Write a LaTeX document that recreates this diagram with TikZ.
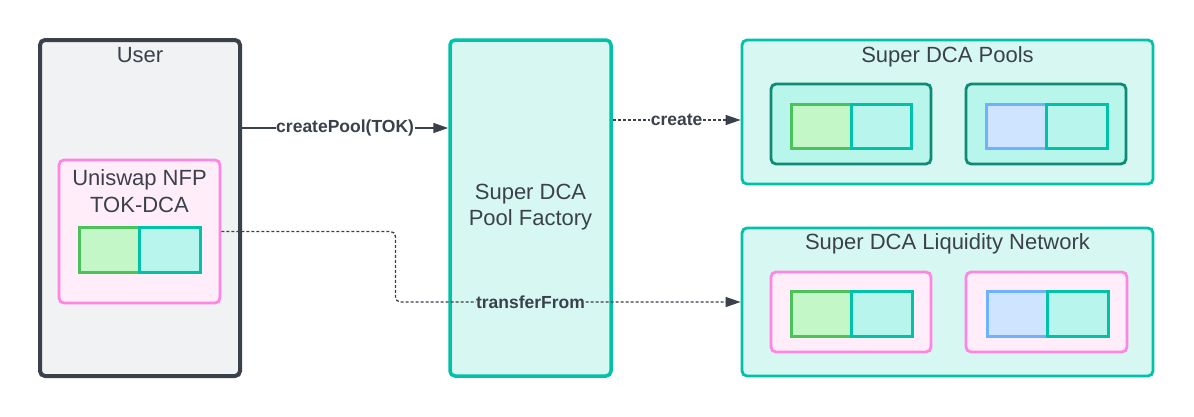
\documentclass[tikz,border=0pt]{standalone}
\usepackage{fontspec}
\setmainfont{Liberation Sans}
\usetikzlibrary{arrows.meta}
\definecolor{ink}{HTML}{3A414A}
\definecolor{userfill}{HTML}{F1F2F4}
\definecolor{teal}{HTML}{00C2A8}
\definecolor{mint}{HTML}{D7F8F2}
\definecolor{poolfill}{HTML}{B8F5EA}
\definecolor{pooldark}{HTML}{0E8A76}
\definecolor{pinkline}{HTML}{FF85E0}
\definecolor{pinkfill}{HTML}{FFEEFA}
\definecolor{greenline}{HTML}{4CC35A}
\definecolor{greenfill}{HTML}{C3F7C8}
\definecolor{tealfill}{HTML}{B8F5ED}
\definecolor{blueline}{HTML}{6DB1FF}
\definecolor{bluefill}{HTML}{CFE4FF}
\tikzset{
  box/.style={draw, rectangle, inner sep=0pt, rounded corners=5pt},
  userbox/.style={box, draw=ink, fill=userfill, line width=4pt},
  tealbox/.style={box, draw=teal, fill=mint, line width=2.8pt},
  factorybox/.style={box, draw=teal, fill=mint, line width=3.5pt},
  poolbox/.style={box, draw=pooldark, fill=poolfill, line width=2.8pt, minimum width=160pt, minimum height=80pt},
  pinkbox/.style={box, draw=pinkline, fill=pinkfill, line width=2.8pt, minimum width=160pt, minimum height=80pt},
  sq/.style={draw, rectangle, inner sep=0pt, line width=3pt, minimum width=60pt, minimum height=45pt},
  gsq/.style={sq, draw=greenline, fill=greenfill},
  tsq/.style={sq, draw=teal, fill=tealfill},
  bsq/.style={sq, draw=blueline, fill=bluefill},
  ttl/.style={text=ink, font=\fontsize{22}{26.5}\selectfont, align=center, inner sep=0pt},
  lbl/.style={text=ink, font=\bfseries\fontsize{17.5}{21}\selectfont, inner sep=0.5pt, fill=white},
  solidarrow/.style={draw=ink, line width=1.5pt, -{Triangle[length=15pt,width=10pt]}},
  dasharrow/.style={draw=ink, line width=1.3pt, dash pattern=on 3pt off 2pt, -{Triangle[length=15pt,width=10pt]}},
}
\begin{document}
\begin{tikzpicture}[x=1pt,y=-1pt]
\useasboundingbox[fill=white] (0,0) rectangle (1194,416);
% User
\node[userbox, minimum width=200pt, minimum height=336pt] (user) at (140,208) {};
\node[ttl] (usert) at (140,55.5) {User};
\node[pinkbox, minimum width=161pt, minimum height=143pt] (uni) at (139.5,231.5) {};
\node[ttl] (unit) at (139.5,191) {Uniswap NFP\\TOK-DCA};
\node[gsq] (ug) at (109,249.5) {};
\node[tsq, minimum width=61pt] (ut) at (169.5,249.5) {};
% Factory
\node[factorybox, minimum width=161pt, minimum height=336pt] (factory) at (530.5,208) {};
\node[ttl] (factoryt) at (530.5,207) {Super DCA\\Pool Factory};
% Pools
\node[tealbox, minimum width=411pt, minimum height=144pt] (pools) at (947.5,112) {};
\node[ttl] (poolst) at (947.5,56.5) {Super DCA Pools};
\node[poolbox] (p1) at (851,124) {};
\node[gsq, minimum height=44pt] (p1g) at (821,126) {};
\node[tsq, minimum height=44pt] (p1t) at (881,126) {};
\node[poolbox] (p2) at (1046,124) {};
\node[bsq, minimum height=44pt] (p2b) at (1016,126) {};
\node[tsq, minimum height=44pt, minimum width=61pt] (p2t) at (1076.5,126) {};
% Liquidity network
\node[tealbox, minimum width=411pt, minimum height=148pt] (net) at (947.5,302) {};
\node[ttl] (nett) at (947.5,243.5) {Super DCA Liquidity Network};
\node[pinkbox] (n1) at (851,312) {};
\node[gsq] (n1g) at (821,313.5) {};
\node[tsq, minimum width=61pt] (n1t) at (881.5,313.5) {};
\node[pinkbox, minimum width=161pt] (n2) at (1046.5,312) {};
\node[bsq] (n2b) at (1017,313.5) {};
\node[tsq, minimum width=61pt] (n2t) at (1077.5,313.5) {};
% Connectors
\draw[solidarrow] ([yshift=80pt]user.east) -- node[lbl] (cpl) {createPool(TOK)} ([yshift=80pt]factory.west);
\draw[dasharrow] ([yshift=88pt]factory.east) -- node[lbl] (crl) {create} ([yshift=-8pt]pools.west);
\coordinate (bend) at (395.5,0);
\draw[dasharrow, rounded corners=5pt] (uni.east) -| (bend |- net.west) -- (net.west);
\node[lbl, fill=mint] (tfl) at (factory.center |- net.west) {transferFrom};
\end{tikzpicture}
\end{document}
